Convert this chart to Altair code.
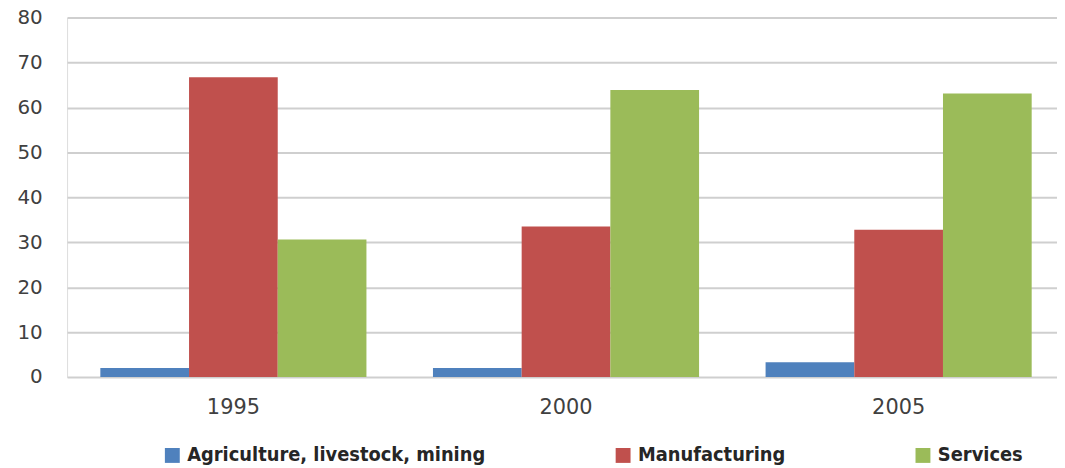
import altair as alt
import pandas as pd

years = ["1995", "2000", "2005"]
sectors = ["Agriculture, livestock, mining", "Manufacturing", "Services"]
agriculture = [2.0, 2.0, 3.3]
manufacturing = [66.7, 33.5, 32.8]
services = [30.6, 63.9, 63.1]
colors = ["#4f81bd", "#c0504d", "#9bbb59"]
y_ticks = [0, 10, 20, 30, 40, 50, 60, 70, 80]

rows = []
for series_name, vals in zip(sectors, [agriculture, manufacturing, services]):
    for yr, v in zip(years, vals):
        rows.append({"Year": yr, "Sector": series_name, "Value": v})
df = pd.DataFrame(rows)

chart = alt.Chart(df).mark_bar().encode(
    x=alt.X("Year:N", sort=years,
            scale=alt.Scale(range=[0, 1005], paddingInner=0.2, paddingOuter=0.1),
            axis=alt.Axis(title=None, labelAngle=0, ticks=False, domain=False,
                          labelFont="DejaVu Sans", labelFontSize=21,
                          labelColor="#404040", labelPadding=20)),
    xOffset=alt.XOffset("Sector:N", sort=sectors),
    y=alt.Y("Value:Q", scale=alt.Scale(domain=[0, 80], nice=False),
            axis=alt.Axis(title=None, values=y_ticks, ticks=False, domain=False,
                          grid=True, gridColor="#cfcfcf", gridWidth=2,
                          labelFont="DejaVu Sans", labelFontSize=20,
                          labelColor="#404040", labelPadding=25)),
    color=alt.Color("Sector:N", sort=sectors,
                    scale=alt.Scale(domain=sectors, range=colors),
                    legend=alt.Legend(title=None, orient="none", legendX=96, legendY=431,
                                      direction="horizontal", columns=3,
                                      columnPadding=128, padding=0,
                                      symbolType="square", symbolSize=225,
                                      symbolStrokeWidth=0, symbolOffset=0,
                                      labelFont="DejaVu Sans Condensed, Roboto Condensed, Liberation Sans",
                                      labelFontSize=20, labelFontWeight="bold",
                                      labelColor="#262626", labelOffset=5,
                                      labelLimit=400)),
).properties(
    width=997,
    height=362,
    title=alt.TitleParams("Figure 5: Stock of FDI by sector (by %)", anchor="start",
                          font="Liberation Sans", fontSize=24, fontWeight="normal",
                          color="#000000", baseline="alphabetic", offset=12, dx=-67,
                          frame="group"),
    autosize=alt.AutoSizeParams(type="none"),
    padding={"left": 59.5, "top": 8, "right": 0, "bottom": 90},
).configure_view(stroke=None).configure(background="white")

chart.save("out.html", embed_options={"renderer": "svg", "actions": False})
